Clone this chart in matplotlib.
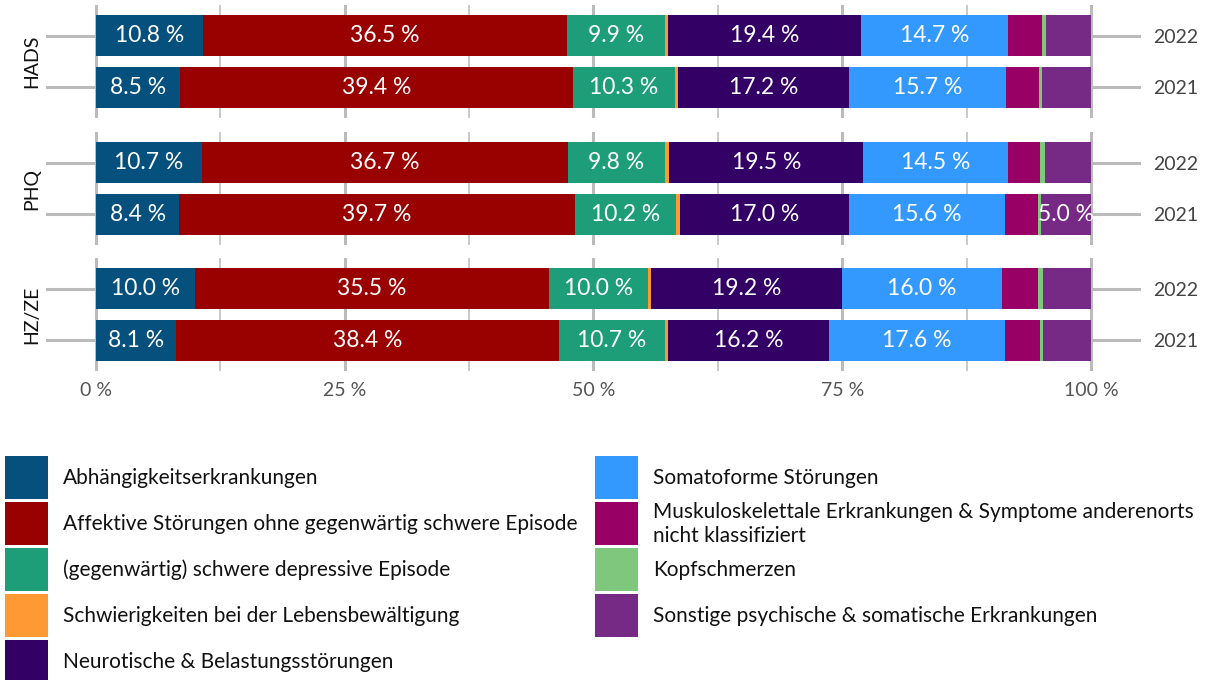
import matplotlib
matplotlib.use("Agg")
import matplotlib.pyplot as plt
from matplotlib.patches import Rectangle
import numpy as np

plt.rcParams['font.family'] = ['Lato', 'DejaVu Sans']

categories = [
    "Abhängigkeitserkrankungen",
    "Affektive Störungen ohne gegenwärtig schwere Episode",
    "(gegenwärtig) schwere depressive Episode",
    "Schwierigkeiten bei der Lebensbewältigung",
    "Neurotische & Belastungsstörungen",
    "Somatoforme Störungen",
    "Muskuloskelettale Erkrankungen & Symptome anderenorts\nnicht klassifiziert",
    "Kopfschmerzen",
    "Sonstige psychische & somatische Erkrankungen",
]
colors = ["#06507D", "#990000", "#1D9E78", "#FF9933", "#330066",
          "#3399FF", "#990066", "#80C77E", "#772A85"]

groups = ["HADS", "PHQ", "HZ/ZE"]
years = ["2021", "2022"]

hads_2021 = [8.5, 39.4, 10.3, 0.3, 17.2, 15.7, 3.4, 0.3, 4.9]
hads_2022 = [10.8, 36.5, 9.9, 0.3, 19.4, 14.7, 3.5, 0.4, 4.5]
phq_2021 = [8.4, 39.7, 10.2, 0.4, 17.0, 15.6, 3.4, 0.3, 5.0]
phq_2022 = [10.7, 36.7, 9.8, 0.4, 19.5, 14.5, 3.3, 0.5, 4.6]
hzze_2021 = [8.1, 38.4, 10.7, 0.3, 16.2, 17.6, 3.6, 0.3, 4.8]
hzze_2022 = [10.0, 35.5, 10.0, 0.3, 19.2, 16.0, 3.7, 0.5, 4.8]

data = {
    "HADS": [hads_2021, hads_2022],
    "PHQ": [phq_2021, phq_2022],
    "HZ/ZE": [hzze_2021, hzze_2022],
}

W, H = 1210, 680
fig = plt.figure(figsize=(W / 100, H / 100), dpi=100)

grid_col = "#BBBBBB"
panel_tops = [5, 132, 258]
panel_h = 113
ax_left, ax_right = 46, 1141

axes = []
for gi, g in enumerate(groups):
    top = panel_tops[gi]
    ax = fig.add_axes([ax_left / W, 1 - (top + panel_h) / H,
                       (ax_right - ax_left) / W, panel_h / H])
    axes.append(ax)
    ax.set_xlim(-5, 105)
    ax.set_ylim(0.4, 2.6)
    ax.set_axisbelow(True)
    ax.set_xticks([0, 25, 50, 75, 100])
    ax.set_xticks([12.5, 37.5, 62.5, 87.5], minor=True)
    ax.set_yticks([1, 2])
    ax.grid(which="major", axis="both", color=grid_col, lw=2.2)
    ax.grid(which="minor", axis="x", color=grid_col, lw=1.1)
    for s in ax.spines.values():
        s.set_visible(False)
    ax.tick_params(which="both", length=0)
    ax.yaxis.tick_right()
    ax.set_yticklabels(years, color="#444444", fontsize=14)
    ax.tick_params(axis="y", pad=9)
    ax.yaxis.set_label_position("left")
    ax.set_ylabel(g, fontsize=14, color="#111111", labelpad=4)
    if gi == len(groups) - 1:
        ax.set_xticklabels(["0 %", "25 %", "50 %", "75 %", "100 %"],
                           color="#555555", fontsize=14)
        ax.tick_params(axis="x", pad=8)
    else:
        ax.set_xticklabels([])

    for yi, vals in enumerate(data[g]):
        ypos = yi + 1
        left = 0.0
        for ci, v in enumerate(vals):
            ax.barh(ypos, v, left=left, height=0.8, color=colors[ci],
                    linewidth=0, zorder=3)
            if v >= 5:
                ax.text(left + v / 2, ypos, f"{v:.1f} %", ha="center",
                        va="center", color="white", fontsize=16.5, zorder=4)
            left += v

# Legend
lax = fig.add_axes([0, 0, 1, 1])
lax.set_xlim(0, W)
lax.set_ylim(H, 0)
lax.axis("off")
key = 43
row_centers = [477.5, 523.5, 569.5, 615.5, 661.5]
col_x = [5, 595]
text_off = 58
for i, (cat, col) in enumerate(zip(categories, colors)):
    c = 0 if i < 5 else 1
    r = i if i < 5 else i - 5
    x0 = col_x[c]
    yc = row_centers[r]
    lax.add_patch(Rectangle((x0, yc - key / 2), key, key, color=col, lw=0))
    lax.text(x0 + text_off, yc, cat, ha="left", va="center", fontsize=15,
             color="#111111", linespacing=1.25)

fig.savefig("out.png", dpi=100)
